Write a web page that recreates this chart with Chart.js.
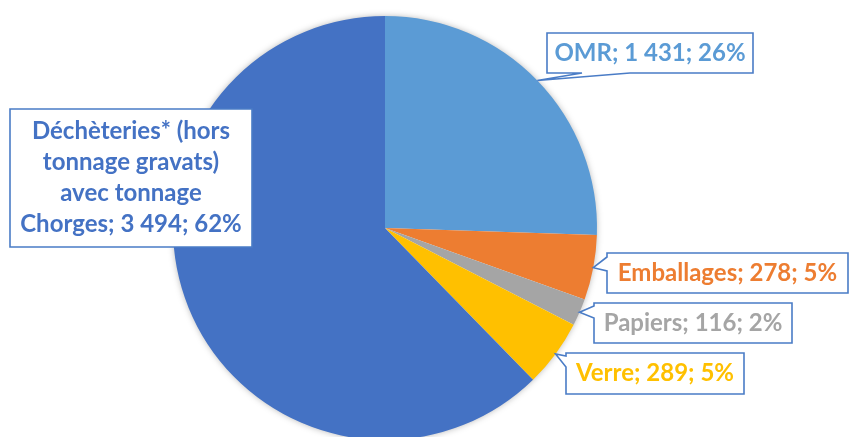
<!DOCTYPE html>
<html>
<head>
<meta charset="utf-8">
<script src="https://cdn.jsdelivr.net/npm/chart.js@4.4.0/dist/chart.umd.min.js"></script>
<style>
  body { margin: 0; overflow: hidden; background: #fff; }
</style>
</head>
<body>
<canvas id="tonnages" width="849" height="460"></canvas>
<script>
// Tonnages collectés par flux
var categories = ['OMR', 'Emballages', 'Papiers', 'Verre', 'Déchèteries* (hors\ntonnage gravats)\navec tonnage\nChorges'];
var tonnages = [1431, 278, 116, 289, 3494];
var sliceColors = ['#5B9BD5', '#ED7D31', '#A5A5A5', '#FFC000', '#4472C4'];

var total = tonnages.reduce(function (a, b) { return a + b; }, 0);

// 3494 -> "3 494"
function formatTonnes(v) {
	return String(v).replace(/\B(?=(\d{3})+(?!\d))/g, ' ');
}

// callout boxes, one per slice (null wedge = no pointer)
var callouts = [
	{ box: [547, 33, 753, 73], wedge: { side: 'bottom', from: 582, to: 630 } },
	{ box: [607, 253, 848, 293], wedge: { side: 'left', from: 257, to: 271 } },
	{ box: [594, 303, 792, 343], wedge: { side: 'left', from: 306, to: 318 } },
	{ box: [566, 353, 744, 394], wedge: { side: 'left', from: 356, to: 367 } },
	{ box: [10, 109, 252, 247], wedge: null, lineHeight: 31 }
];

var calloutPlugin = {
	id: 'callouts',
	beforeDatasetsDraw: function (chart) {
		// soft shadow behind the pie
		var arc = chart.getDatasetMeta(0).data[0];
		var ctx = chart.ctx;
		ctx.save();
		ctx.shadowColor = 'rgba(0,0,0,0.35)';
		ctx.shadowBlur = 7;
		ctx.fillStyle = '#fff';
		ctx.beginPath();
		ctx.arc(arc.x, arc.y, arc.outerRadius - 1, 0, Math.PI * 2);
		ctx.fill();
		ctx.restore();
	},
	afterDatasetsDraw: function (chart) {
		var ctx = chart.ctx;
		var meta = chart.getDatasetMeta(0);
		ctx.save();
		ctx.font = 'bold 24px Lato';
		ctx.textAlign = 'center';
		ctx.textBaseline = 'middle';
		for (var i = 0; i < callouts.length; i++) {
			var c = callouts[i];
			var a = meta.data[i].getProps(['x', 'y', 'startAngle', 'endAngle', 'outerRadius'], true);
			var mid = (a.startAngle + a.endAngle) / 2;
			var tipX = a.x + Math.cos(mid) * a.outerRadius;
			var tipY = a.y + Math.sin(mid) * a.outerRadius;
			var l = c.box[0], t = c.box[1], r = c.box[2], b = c.box[3];

			ctx.beginPath();
			ctx.moveTo(l, t);
			ctx.lineTo(r, t);
			ctx.lineTo(r, b);
			if (c.wedge && c.wedge.side === 'bottom') {
				ctx.lineTo(c.wedge.to, b);
				ctx.lineTo(tipX, tipY);
				ctx.lineTo(c.wedge.from, b);
			}
			ctx.lineTo(l, b);
			if (c.wedge && c.wedge.side === 'left') {
				ctx.lineTo(l, c.wedge.to);
				ctx.lineTo(tipX, tipY);
				ctx.lineTo(l, c.wedge.from);
			}
			ctx.closePath();
			ctx.fillStyle = '#fff';
			ctx.fill();
			ctx.lineWidth = 1.6;
			ctx.strokeStyle = '#4A7CC6';
			ctx.stroke();

			var pct = Math.round(tonnages[i] / total * 100);
			var text = categories[i] + '; ' + formatTonnes(tonnages[i]) + '; ' + pct + '%';
			var lines = text.split('\n');
			var lh = c.lineHeight || 30;
			var cy = (t + b) / 2 - (lines.length - 1) * lh / 2;
			ctx.fillStyle = sliceColors[i];
			for (var k = 0; k < lines.length; k++) {
				ctx.fillText(lines[k], (l + r) / 2, cy + k * lh);
			}
		}
		ctx.restore();
	}
};

new Chart(document.getElementById('tonnages'), {
	type: 'pie',
	data: {
		labels: categories,
		datasets: [{
			data: tonnages,
			backgroundColor: sliceColors,
			borderWidth: 0
		}]
	},
	options: {
		responsive: false,
		animation: false,
		layout: { padding: { left: 173, right: 252, top: 16, bottom: 20 } },
		plugins: {
			legend: { display: false },
			tooltip: { enabled: false }
		}
	},
	plugins: [calloutPlugin]
});
</script>
</body>
</html>
